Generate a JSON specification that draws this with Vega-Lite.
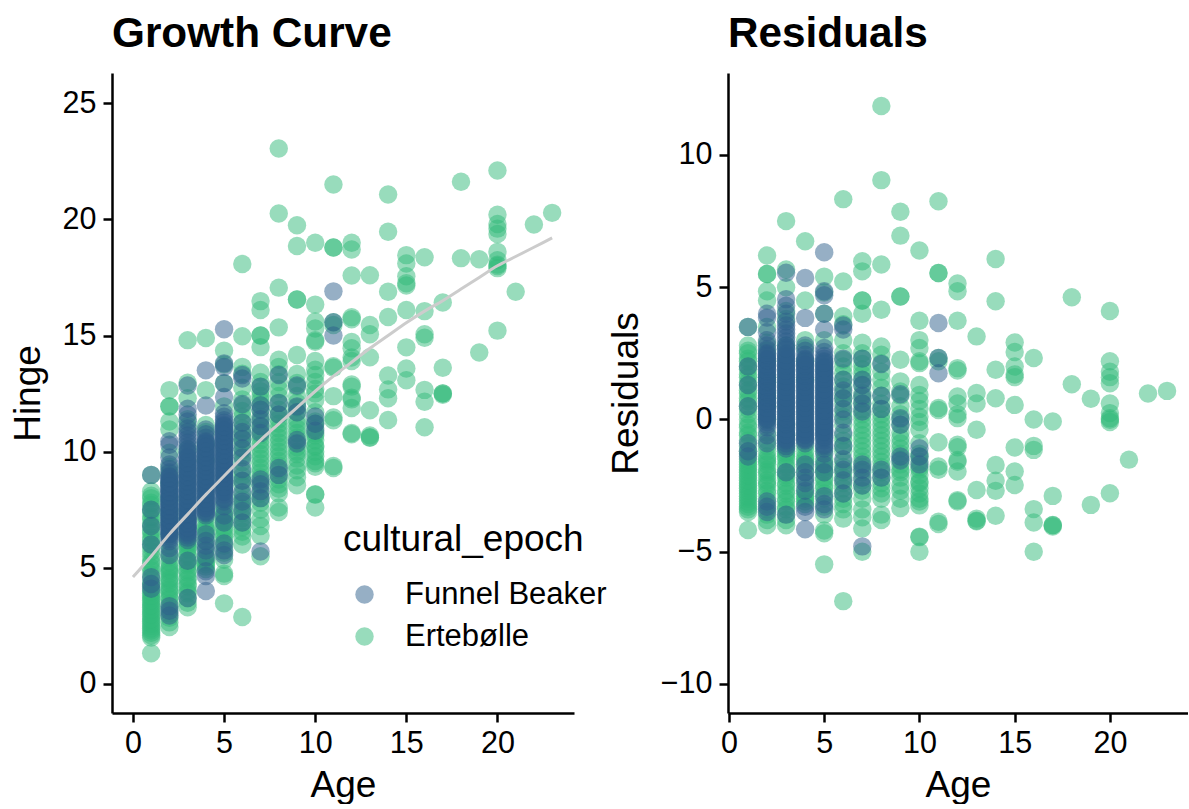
{"$schema":"https://vega.github.io/schema/vega-lite/v6.json","background":"white","padding":{"left":9,"top":12,"right":0,"bottom":0},"autosize":{"type":"pad"},"bounds":"flush","spacing":154,"config":{"view":{"stroke":null},"font":"Liberation Sans","title":{"font":"Liberation Sans","fontSize":42.3,"fontWeight":"bold","anchor":"start","frame":"group","color":"black","offset":17},"axis":{"grid":false,"domainColor":"black","tickColor":"black","domainWidth":2.5,"tickWidth":2.5,"tickSize":9,"labelColor":"black","titleColor":"black","labelFont":"Liberation Sans","titleFont":"Liberation Sans","labelFontSize":30.5,"titleFontSize":37,"titleFontWeight":"normal","labelPadding":7,"titlePadding":15,"labelFlush":false},"axisX":{"labelPadding":6,"titlePadding":9}},"datasets":{"rows":[
{"age":6,"hinge":9.85,"resid":0.1,"epoch":"Ertebølle"},{"age":6,"hinge":10.55,"resid":0.8,"epoch":"Ertebølle"},{"age":6,"hinge":11.0,"resid":1.25,"epoch":"Ertebølle"},{"age":6,"hinge":11.5,"resid":1.75,"epoch":"Ertebølle"},{"age":6,"hinge":12.0,"resid":2.25,"epoch":"Ertebølle"},{"age":6,"hinge":9.55,"resid":-0.2,"epoch":"Ertebølle"},{"age":6,"hinge":8.95,"resid":-0.8,"epoch":"Ertebølle"},{"age":7,"hinge":9.1,"resid":-1.4,"epoch":"Ertebølle"},{"age":7,"hinge":9.5,"resid":-1.0,"epoch":"Ertebølle"},{"age":7,"hinge":9.9,"resid":-0.6,"epoch":"Ertebølle"},{"age":7,"hinge":10.3,"resid":-0.2,"epoch":"Ertebølle"},{"age":7,"hinge":12.0,"resid":1.5,"epoch":"Ertebølle"},{"age":7,"hinge":12.4,"resid":1.9,"epoch":"Ertebølle"},{"age":7,"hinge":12.8,"resid":2.3,"epoch":"Ertebølle"},{"age":8,"hinge":8.4,"resid":-2.8,"epoch":"Ertebølle"},{"age":8,"hinge":8.8,"resid":-2.4,"epoch":"Ertebølle"},{"age":8,"hinge":9.2,"resid":-2.0,"epoch":"Ertebølle"},{"age":8,"hinge":9.6,"resid":-1.6,"epoch":"Ertebølle"},{"age":8,"hinge":10.0,"resid":-1.2,"epoch":"Ertebølle"},{"age":8,"hinge":10.4,"resid":-0.8,"epoch":"Ertebølle"},{"age":8,"hinge":10.8,"resid":-0.4,"epoch":"Ertebølle"},{"age":8,"hinge":11.2,"resid":0.0,"epoch":"Ertebølle"},{"age":8,"hinge":11.6,"resid":0.4,"epoch":"Ertebølle"},{"age":9,"hinge":9.4,"resid":-2.5,"epoch":"Ertebølle"},{"age":9,"hinge":10.0,"resid":-1.9,"epoch":"Ertebølle"},{"age":9,"hinge":10.4,"resid":-1.5,"epoch":"Ertebølle"},{"age":9,"hinge":10.8,"resid":-1.1,"epoch":"Ertebølle"},{"age":9,"hinge":11.2,"resid":-0.7,"epoch":"Ertebølle"},{"age":9,"hinge":11.9,"resid":0.0,"epoch":"Ertebølle"},{"age":9,"hinge":12.4,"resid":0.5,"epoch":"Ertebølle"},{"age":10,"hinge":9.8,"resid":-2.8,"epoch":"Ertebølle"},{"age":10,"hinge":10.2,"resid":-2.4,"epoch":"Ertebølle"},{"age":10,"hinge":10.8,"resid":-1.8,"epoch":"Ertebølle"},{"age":10,"hinge":11.2,"resid":-1.4,"epoch":"Ertebølle"},{"age":10,"hinge":11.7,"resid":-0.9,"epoch":"Ertebølle"},{"age":10,"hinge":12.5,"resid":-0.1,"epoch":"Ertebølle"},{"age":10,"hinge":13.3,"resid":0.7,"epoch":"Ertebølle"},
{"age":1,"hinge":2.1,"resid":-3.4,"epoch":"Ertebølle"},{"age":1,"hinge":2.3,"resid":-3.2,"epoch":"Ertebølle"},{"age":1,"hinge":2.5,"resid":-3.0,"epoch":"Ertebølle"},{"age":1,"hinge":2.7,"resid":-2.8,"epoch":"Ertebølle"},{"age":1,"hinge":2.9,"resid":-2.6,"epoch":"Ertebølle"},{"age":1,"hinge":3.1,"resid":-2.4,"epoch":"Ertebølle"},{"age":1,"hinge":3.3,"resid":-2.2,"epoch":"Ertebølle"},{"age":1,"hinge":3.5,"resid":-2.0,"epoch":"Ertebølle"},{"age":1,"hinge":3.7,"resid":-1.8,"epoch":"Ertebølle"},{"age":1,"hinge":3.9,"resid":-1.6,"epoch":"Ertebølle"},{"age":1,"hinge":4.2,"resid":-1.3,"epoch":"Ertebølle"},{"age":1,"hinge":4.5,"resid":-1.0,"epoch":"Ertebølle"},{"age":1,"hinge":4.9,"resid":-0.6,"epoch":"Ertebølle"},{"age":1,"hinge":5.2,"resid":-0.3,"epoch":"Ertebølle"},{"age":1,"hinge":5.5,"resid":0.0,"epoch":"Ertebølle"},{"age":1,"hinge":5.9,"resid":0.4,"epoch":"Ertebølle"},{"age":1,"hinge":6.2,"resid":0.7,"epoch":"Ertebølle"},{"age":1,"hinge":6.5,"resid":1.0,"epoch":"Ertebølle"},{"age":1,"hinge":6.8,"resid":1.3,"epoch":"Ertebølle"},{"age":1,"hinge":7.1,"resid":1.6,"epoch":"Ertebølle"},{"age":1,"hinge":7.4,"resid":1.9,"epoch":"Ertebølle"},{"age":1,"hinge":7.7,"resid":2.2,"epoch":"Ertebølle"},{"age":1,"hinge":8.0,"resid":2.5,"epoch":"Ertebølle"},{"age":1,"hinge":8.3,"resid":2.8,"epoch":"Ertebølle"},
{"age":2,"hinge":3.05,"resid":-3.4,"epoch":"Ertebølle"},{"age":2,"hinge":3.25,"resid":-3.2,"epoch":"Ertebølle"},{"age":2,"hinge":3.65,"resid":-2.8,"epoch":"Ertebølle"},{"age":2,"hinge":4.05,"resid":-2.4,"epoch":"Ertebølle"},{"age":2,"hinge":4.45,"resid":-2.0,"epoch":"Ertebølle"},{"age":2,"hinge":4.85,"resid":-1.6,"epoch":"Ertebølle"},{"age":2,"hinge":5.05,"resid":-1.4,"epoch":"Ertebølle"},{"age":2,"hinge":5.45,"resid":-1.0,"epoch":"Ertebølle"},{"age":2,"hinge":5.95,"resid":-0.5,"epoch":"Ertebølle"},{"age":2,"hinge":6.45,"resid":0.0,"epoch":"Ertebølle"},{"age":2,"hinge":6.95,"resid":0.5,"epoch":"Ertebølle"},{"age":2,"hinge":7.45,"resid":1.0,"epoch":"Ertebølle"},{"age":2,"hinge":8.05,"resid":1.6,"epoch":"Ertebølle"},{"age":2,"hinge":8.65,"resid":2.2,"epoch":"Ertebølle"},{"age":2,"hinge":9.05,"resid":2.6,"epoch":"Ertebølle"},
{"age":3,"hinge":3.9,"resid":-3.4,"epoch":"Ertebølle"},{"age":3,"hinge":4.2,"resid":-3.1,"epoch":"Ertebølle"},{"age":3,"hinge":4.5,"resid":-2.8,"epoch":"Ertebølle"},{"age":3,"hinge":4.9,"resid":-2.4,"epoch":"Ertebølle"},{"age":3,"hinge":5.2,"resid":-2.1,"epoch":"Ertebølle"},{"age":3,"hinge":5.5,"resid":-1.8,"epoch":"Ertebølle"},{"age":3,"hinge":5.8,"resid":-1.5,"epoch":"Ertebølle"},{"age":3,"hinge":6.0,"resid":-1.3,"epoch":"Ertebølle"},{"age":3,"hinge":6.3,"resid":-1.0,"epoch":"Ertebølle"},{"age":3,"hinge":6.7,"resid":-0.6,"epoch":"Ertebølle"},{"age":3,"hinge":7.1,"resid":-0.2,"epoch":"Ertebølle"},
{"age":4,"hinge":5.05,"resid":-3.1,"epoch":"Ertebølle"},{"age":4,"hinge":5.25,"resid":-2.9,"epoch":"Ertebølle"},{"age":4,"hinge":5.55,"resid":-2.6,"epoch":"Ertebølle"},{"age":4,"hinge":5.85,"resid":-2.3,"epoch":"Ertebølle"},{"age":4,"hinge":6.15,"resid":-2.0,"epoch":"Ertebølle"},{"age":4,"hinge":6.35,"resid":-1.8,"epoch":"Ertebølle"},{"age":4,"hinge":6.55,"resid":-1.6,"epoch":"Ertebølle"},{"age":4,"hinge":6.75,"resid":-1.4,"epoch":"Ertebølle"},{"age":4,"hinge":7.15,"resid":-1.0,"epoch":"Ertebølle"},
{"age":5,"hinge":5.65,"resid":-3.3,"epoch":"Ertebølle"},{"age":5,"hinge":6.15,"resid":-2.8,"epoch":"Ertebølle"},{"age":5,"hinge":6.45,"resid":-2.5,"epoch":"Ertebølle"},{"age":5,"hinge":6.75,"resid":-2.2,"epoch":"Ertebølle"},{"age":5,"hinge":7.05,"resid":-1.9,"epoch":"Ertebølle"},{"age":5,"hinge":7.35,"resid":-1.6,"epoch":"Ertebølle"},{"age":5,"hinge":7.75,"resid":-1.2,"epoch":"Ertebølle"},
{"age":6,"hinge":6.55,"resid":-3.2,"epoch":"Ertebølle"},{"age":6,"hinge":6.95,"resid":-2.8,"epoch":"Ertebølle"},{"age":6,"hinge":7.35,"resid":-2.4,"epoch":"Ertebølle"},{"age":6,"hinge":7.75,"resid":-2.0,"epoch":"Ertebølle"},{"age":6,"hinge":8.15,"resid":-1.6,"epoch":"Ertebølle"},{"age":6,"hinge":8.55,"resid":-1.2,"epoch":"Ertebølle"},
{"age":7,"hinge":7.1,"resid":-3.4,"epoch":"Ertebølle"},{"age":7,"hinge":8.0,"resid":-2.5,"epoch":"Ertebølle"},{"age":7,"hinge":8.7,"resid":-1.8,"epoch":"Ertebølle"},{"age":7,"hinge":10.7,"resid":0.2,"epoch":"Ertebølle"},{"age":7,"hinge":11.1,"resid":0.6,"epoch":"Ertebølle"},{"age":7,"hinge":11.5,"resid":1.0,"epoch":"Ertebølle"},
{"age":1,"hinge":1.32,"resid":-4.18,"epoch":"Ertebølle"},{"age":1,"hinge":2.0,"resid":-3.5,"epoch":"Ertebølle"},{"age":1,"hinge":2.2,"resid":-3.3,"epoch":"Ertebølle"},{"age":1,"hinge":2.4,"resid":-3.1,"epoch":"Ertebølle"},{"age":1,"hinge":2.6,"resid":-2.9,"epoch":"Ertebølle"},{"age":1,"hinge":2.8,"resid":-2.7,"epoch":"Ertebølle"},{"age":1,"hinge":3.0,"resid":-2.5,"epoch":"Ertebølle"},{"age":1,"hinge":3.2,"resid":-2.3,"epoch":"Ertebølle"},{"age":1,"hinge":3.4,"resid":-2.1,"epoch":"Ertebølle"},{"age":1,"hinge":3.6,"resid":-1.9,"epoch":"Ertebølle"},{"age":1,"hinge":3.8,"resid":-1.7,"epoch":"Ertebølle"},{"age":1,"hinge":4.0,"resid":-1.5,"epoch":"Ertebølle"},{"age":1,"hinge":4.3,"resid":-1.2,"epoch":"Ertebølle"},{"age":1,"hinge":4.7,"resid":-0.8,"epoch":"Ertebølle"},{"age":1,"hinge":5.0,"resid":-0.5,"epoch":"Ertebølle"},{"age":1,"hinge":5.3,"resid":-0.2,"epoch":"Ertebølle"},{"age":1,"hinge":5.7,"resid":0.2,"epoch":"Ertebølle"},{"age":1,"hinge":6.0,"resid":0.5,"epoch":"Ertebølle"},{"age":1,"hinge":6.3,"resid":0.8,"epoch":"Ertebølle"},{"age":1,"hinge":6.6,"resid":1.1,"epoch":"Ertebølle"},{"age":1,"hinge":6.9,"resid":1.4,"epoch":"Ertebølle"},{"age":1,"hinge":7.2,"resid":1.7,"epoch":"Ertebølle"},{"age":1,"hinge":7.5,"resid":2.0,"epoch":"Ertebølle"},{"age":1,"hinge":7.8,"resid":2.3,"epoch":"Ertebølle"},{"age":1,"hinge":8.1,"resid":2.6,"epoch":"Ertebølle"},{"age":1,"hinge":9.0,"resid":3.5,"epoch":"Ertebølle"},
{"age":1,"hinge":9.0,"resid":3.5,"epoch":"Funnel Beaker"},{"age":1,"hinge":7.5,"resid":2.0,"epoch":"Funnel Beaker"},{"age":1,"hinge":6.8,"resid":1.3,"epoch":"Funnel Beaker"},{"age":1,"hinge":6.0,"resid":0.5,"epoch":"Funnel Beaker"},{"age":1,"hinge":4.6,"resid":-0.9,"epoch":"Funnel Beaker"},{"age":1,"hinge":4.3,"resid":-1.2,"epoch":"Funnel Beaker"},{"age":1,"hinge":4.1,"resid":-1.4,"epoch":"Funnel Beaker"},
{"age":2,"hinge":2.45,"resid":-4.0,"epoch":"Ertebølle"},{"age":2,"hinge":2.65,"resid":-3.8,"epoch":"Ertebølle"},{"age":2,"hinge":2.85,"resid":-3.6,"epoch":"Ertebølle"},{"age":2,"hinge":3.45,"resid":-3.0,"epoch":"Ertebølle"},{"age":2,"hinge":3.75,"resid":-2.7,"epoch":"Ertebølle"},{"age":2,"hinge":3.95,"resid":-2.5,"epoch":"Ertebølle"},{"age":2,"hinge":4.15,"resid":-2.3,"epoch":"Ertebølle"},{"age":2,"hinge":4.35,"resid":-2.1,"epoch":"Ertebølle"},{"age":2,"hinge":4.55,"resid":-1.9,"epoch":"Ertebølle"},{"age":2,"hinge":4.75,"resid":-1.7,"epoch":"Ertebølle"},{"age":2,"hinge":4.95,"resid":-1.5,"epoch":"Ertebølle"},{"age":2,"hinge":5.25,"resid":-1.2,"epoch":"Ertebølle"},{"age":2,"hinge":5.65,"resid":-0.8,"epoch":"Ertebølle"},{"age":2,"hinge":7.25,"resid":0.8,"epoch":"Ertebølle"},{"age":2,"hinge":7.85,"resid":1.4,"epoch":"Ertebølle"},{"age":2,"hinge":9.35,"resid":2.9,"epoch":"Ertebølle"},{"age":2,"hinge":9.95,"resid":3.5,"epoch":"Ertebølle"},{"age":2,"hinge":10.95,"resid":4.5,"epoch":"Ertebølle"},{"age":2,"hinge":11.3,"resid":4.85,"epoch":"Ertebølle"},{"age":2,"hinge":11.95,"resid":5.5,"epoch":"Ertebølle"},{"age":2,"hinge":11.95,"resid":5.5,"epoch":"Ertebølle"},{"age":2,"hinge":12.65,"resid":6.2,"epoch":"Ertebølle"},
{"age":2,"hinge":2.95,"resid":-3.5,"epoch":"Funnel Beaker"},{"age":2,"hinge":3.15,"resid":-3.3,"epoch":"Funnel Beaker"},{"age":2,"hinge":3.35,"resid":-3.1,"epoch":"Funnel Beaker"},{"age":2,"hinge":5.55,"resid":-0.9,"epoch":"Funnel Beaker"},{"age":2,"hinge":5.85,"resid":-0.6,"epoch":"Funnel Beaker"},{"age":2,"hinge":6.15,"resid":-0.3,"epoch":"Funnel Beaker"},{"age":2,"hinge":6.35,"resid":-0.1,"epoch":"Funnel Beaker"},{"age":2,"hinge":6.55,"resid":0.1,"epoch":"Funnel Beaker"},{"age":2,"hinge":6.75,"resid":0.3,"epoch":"Funnel Beaker"},{"age":2,"hinge":6.95,"resid":0.5,"epoch":"Funnel Beaker"},{"age":2,"hinge":7.15,"resid":0.7,"epoch":"Funnel Beaker"},{"age":2,"hinge":7.35,"resid":0.9,"epoch":"Funnel Beaker"},{"age":2,"hinge":7.55,"resid":1.1,"epoch":"Funnel Beaker"},{"age":2,"hinge":7.75,"resid":1.3,"epoch":"Funnel Beaker"},{"age":2,"hinge":7.95,"resid":1.5,"epoch":"Funnel Beaker"},{"age":2,"hinge":8.15,"resid":1.7,"epoch":"Funnel Beaker"},{"age":2,"hinge":8.35,"resid":1.9,"epoch":"Funnel Beaker"},{"age":2,"hinge":8.55,"resid":2.1,"epoch":"Funnel Beaker"},{"age":2,"hinge":8.75,"resid":2.3,"epoch":"Funnel Beaker"},{"age":2,"hinge":8.95,"resid":2.5,"epoch":"Funnel Beaker"},{"age":2,"hinge":9.25,"resid":2.8,"epoch":"Funnel Beaker"},{"age":2,"hinge":9.45,"resid":3.0,"epoch":"Funnel Beaker"},{"age":2,"hinge":9.75,"resid":3.3,"epoch":"Funnel Beaker"},{"age":2,"hinge":10.3,"resid":3.85,"epoch":"Funnel Beaker"},{"age":2,"hinge":10.45,"resid":4.0,"epoch":"Funnel Beaker"},
{"age":3,"hinge":3.3,"resid":-4.0,"epoch":"Ertebølle"},{"age":3,"hinge":3.5,"resid":-3.8,"epoch":"Ertebølle"},{"age":3,"hinge":3.7,"resid":-3.6,"epoch":"Ertebølle"},{"age":3,"hinge":4.0,"resid":-3.3,"epoch":"Ertebølle"},{"age":3,"hinge":4.3,"resid":-3.0,"epoch":"Ertebølle"},{"age":3,"hinge":4.6,"resid":-2.7,"epoch":"Ertebølle"},{"age":3,"hinge":4.8,"resid":-2.5,"epoch":"Ertebølle"},{"age":3,"hinge":5.1,"resid":-2.2,"epoch":"Ertebølle"},{"age":3,"hinge":5.3,"resid":-2.0,"epoch":"Ertebølle"},{"age":3,"hinge":5.6,"resid":-1.7,"epoch":"Ertebølle"},{"age":3,"hinge":5.9,"resid":-1.4,"epoch":"Ertebølle"},{"age":3,"hinge":6.1,"resid":-1.2,"epoch":"Ertebølle"},{"age":3,"hinge":10.1,"resid":2.8,"epoch":"Ertebølle"},{"age":3,"hinge":11.1,"resid":3.8,"epoch":"Ertebølle"},{"age":3,"hinge":11.4,"resid":4.1,"epoch":"Ertebølle"},{"age":3,"hinge":12.3,"resid":5.0,"epoch":"Ertebølle"},{"age":3,"hinge":12.97,"resid":5.67,"epoch":"Ertebølle"},{"age":3,"hinge":14.8,"resid":7.5,"epoch":"Ertebølle"},
{"age":3,"hinge":3.7,"resid":-3.6,"epoch":"Funnel Beaker"},{"age":3,"hinge":5.3,"resid":-2.0,"epoch":"Funnel Beaker"},{"age":3,"hinge":6.2,"resid":-1.1,"epoch":"Funnel Beaker"},{"age":3,"hinge":6.4,"resid":-0.9,"epoch":"Funnel Beaker"},{"age":3,"hinge":6.6,"resid":-0.7,"epoch":"Funnel Beaker"},{"age":3,"hinge":6.8,"resid":-0.5,"epoch":"Funnel Beaker"},{"age":3,"hinge":7.0,"resid":-0.3,"epoch":"Funnel Beaker"},{"age":3,"hinge":7.2,"resid":-0.1,"epoch":"Funnel Beaker"},{"age":3,"hinge":7.4,"resid":0.1,"epoch":"Funnel Beaker"},{"age":3,"hinge":7.6,"resid":0.3,"epoch":"Funnel Beaker"},{"age":3,"hinge":7.8,"resid":0.5,"epoch":"Funnel Beaker"},{"age":3,"hinge":8.0,"resid":0.7,"epoch":"Funnel Beaker"},{"age":3,"hinge":8.2,"resid":0.9,"epoch":"Funnel Beaker"},{"age":3,"hinge":8.4,"resid":1.1,"epoch":"Funnel Beaker"},{"age":3,"hinge":8.6,"resid":1.3,"epoch":"Funnel Beaker"},{"age":3,"hinge":8.8,"resid":1.5,"epoch":"Funnel Beaker"},{"age":3,"hinge":9.0,"resid":1.7,"epoch":"Funnel Beaker"},{"age":3,"hinge":9.2,"resid":1.9,"epoch":"Funnel Beaker"},{"age":3,"hinge":9.4,"resid":2.1,"epoch":"Funnel Beaker"},{"age":3,"hinge":9.6,"resid":2.3,"epoch":"Funnel Beaker"},{"age":3,"hinge":9.8,"resid":2.5,"epoch":"Funnel Beaker"},{"age":3,"hinge":10.1,"resid":2.8,"epoch":"Funnel Beaker"},{"age":3,"hinge":10.4,"resid":3.1,"epoch":"Funnel Beaker"},{"age":3,"hinge":10.7,"resid":3.4,"epoch":"Funnel Beaker"},{"age":3,"hinge":11.0,"resid":3.7,"epoch":"Funnel Beaker"},{"age":3,"hinge":11.3,"resid":4.0,"epoch":"Funnel Beaker"},{"age":3,"hinge":11.6,"resid":4.3,"epoch":"Funnel Beaker"},{"age":3,"hinge":11.85,"resid":4.55,"epoch":"Funnel Beaker"},{"age":3,"hinge":12.85,"resid":5.55,"epoch":"Funnel Beaker"},
{"age":4,"hinge":4.95,"resid":-3.2,"epoch":"Ertebølle"},{"age":4,"hinge":5.15,"resid":-3.0,"epoch":"Ertebølle"},{"age":4,"hinge":5.35,"resid":-2.8,"epoch":"Ertebølle"},{"age":4,"hinge":6.65,"resid":-1.5,"epoch":"Ertebølle"},{"age":4,"hinge":6.95,"resid":-1.2,"epoch":"Ertebølle"},{"age":4,"hinge":9.65,"resid":1.5,"epoch":"Ertebølle"},{"age":4,"hinge":10.35,"resid":2.2,"epoch":"Ertebølle"},{"age":4,"hinge":10.85,"resid":2.7,"epoch":"Ertebølle"},{"age":4,"hinge":11.15,"resid":3.0,"epoch":"Ertebølle"},{"age":4,"hinge":12.65,"resid":4.5,"epoch":"Ertebølle"},{"age":4,"hinge":14.89,"resid":6.74,"epoch":"Ertebølle"},
{"age":4,"hinge":4.0,"resid":-4.15,"epoch":"Funnel Beaker"},{"age":4,"hinge":4.65,"resid":-3.5,"epoch":"Funnel Beaker"},{"age":4,"hinge":4.85,"resid":-3.3,"epoch":"Funnel Beaker"},{"age":4,"hinge":5.45,"resid":-2.7,"epoch":"Funnel Beaker"},{"age":4,"hinge":5.75,"resid":-2.4,"epoch":"Funnel Beaker"},{"age":4,"hinge":5.95,"resid":-2.2,"epoch":"Funnel Beaker"},{"age":4,"hinge":6.15,"resid":-2.0,"epoch":"Funnel Beaker"},{"age":4,"hinge":6.45,"resid":-1.7,"epoch":"Funnel Beaker"},{"age":4,"hinge":7.25,"resid":-0.9,"epoch":"Funnel Beaker"},{"age":4,"hinge":7.45,"resid":-0.7,"epoch":"Funnel Beaker"},{"age":4,"hinge":7.65,"resid":-0.5,"epoch":"Funnel Beaker"},{"age":4,"hinge":7.85,"resid":-0.3,"epoch":"Funnel Beaker"},{"age":4,"hinge":8.05,"resid":-0.1,"epoch":"Funnel Beaker"},{"age":4,"hinge":8.25,"resid":0.1,"epoch":"Funnel Beaker"},{"age":4,"hinge":8.45,"resid":0.3,"epoch":"Funnel Beaker"},{"age":4,"hinge":8.65,"resid":0.5,"epoch":"Funnel Beaker"},{"age":4,"hinge":8.85,"resid":0.7,"epoch":"Funnel Beaker"},{"age":4,"hinge":9.05,"resid":0.9,"epoch":"Funnel Beaker"},{"age":4,"hinge":9.25,"resid":1.1,"epoch":"Funnel Beaker"},{"age":4,"hinge":9.45,"resid":1.3,"epoch":"Funnel Beaker"},{"age":4,"hinge":9.65,"resid":1.5,"epoch":"Funnel Beaker"},{"age":4,"hinge":9.85,"resid":1.7,"epoch":"Funnel Beaker"},{"age":4,"hinge":10.05,"resid":1.9,"epoch":"Funnel Beaker"},{"age":4,"hinge":10.25,"resid":2.1,"epoch":"Funnel Beaker"},{"age":4,"hinge":10.45,"resid":2.3,"epoch":"Funnel Beaker"},{"age":4,"hinge":10.75,"resid":2.6,"epoch":"Funnel Beaker"},{"age":4,"hinge":11.99,"resid":3.84,"epoch":"Funnel Beaker"},{"age":4,"hinge":13.5,"resid":5.35,"epoch":"Funnel Beaker"},
{"age":5,"hinge":3.47,"resid":-5.48,"epoch":"Ertebølle"},{"age":5,"hinge":4.65,"resid":-4.3,"epoch":"Ertebølle"},{"age":5,"hinge":4.75,"resid":-4.2,"epoch":"Ertebølle"},{"age":5,"hinge":5.35,"resid":-3.6,"epoch":"Ertebølle"},{"age":5,"hinge":5.95,"resid":-3.0,"epoch":"Ertebølle"},{"age":5,"hinge":6.35,"resid":-2.6,"epoch":"Ertebølle"},{"age":5,"hinge":6.65,"resid":-2.3,"epoch":"Ertebølle"},{"age":5,"hinge":6.95,"resid":-2.0,"epoch":"Ertebølle"},{"age":5,"hinge":7.15,"resid":-1.8,"epoch":"Ertebølle"},{"age":5,"hinge":7.45,"resid":-1.5,"epoch":"Ertebølle"},{"age":5,"hinge":11.95,"resid":3.0,"epoch":"Ertebølle"},{"age":5,"hinge":12.95,"resid":4.0,"epoch":"Ertebølle"},{"age":5,"hinge":13.75,"resid":4.8,"epoch":"Ertebølle"},{"age":5,"hinge":14.35,"resid":5.4,"epoch":"Ertebølle"},
{"age":5,"hinge":5.55,"resid":-3.4,"epoch":"Funnel Beaker"},{"age":5,"hinge":5.75,"resid":-3.2,"epoch":"Funnel Beaker"},{"age":5,"hinge":6.05,"resid":-2.9,"epoch":"Funnel Beaker"},{"age":5,"hinge":6.95,"resid":-2.0,"epoch":"Funnel Beaker"},{"age":5,"hinge":7.25,"resid":-1.7,"epoch":"Funnel Beaker"},{"age":5,"hinge":7.65,"resid":-1.3,"epoch":"Funnel Beaker"},{"age":5,"hinge":7.85,"resid":-1.1,"epoch":"Funnel Beaker"},{"age":5,"hinge":8.15,"resid":-0.8,"epoch":"Funnel Beaker"},{"age":5,"hinge":8.35,"resid":-0.6,"epoch":"Funnel Beaker"},{"age":5,"hinge":8.55,"resid":-0.4,"epoch":"Funnel Beaker"},{"age":5,"hinge":8.75,"resid":-0.2,"epoch":"Funnel Beaker"},{"age":5,"hinge":8.95,"resid":0.0,"epoch":"Funnel Beaker"},{"age":5,"hinge":9.15,"resid":0.2,"epoch":"Funnel Beaker"},{"age":5,"hinge":9.35,"resid":0.4,"epoch":"Funnel Beaker"},{"age":5,"hinge":9.55,"resid":0.6,"epoch":"Funnel Beaker"},{"age":5,"hinge":9.75,"resid":0.8,"epoch":"Funnel Beaker"},{"age":5,"hinge":9.95,"resid":1.0,"epoch":"Funnel Beaker"},{"age":5,"hinge":10.15,"resid":1.2,"epoch":"Funnel Beaker"},{"age":5,"hinge":10.35,"resid":1.4,"epoch":"Funnel Beaker"},{"age":5,"hinge":10.55,"resid":1.6,"epoch":"Funnel Beaker"},{"age":5,"hinge":10.75,"resid":1.8,"epoch":"Funnel Beaker"},{"age":5,"hinge":10.95,"resid":2.0,"epoch":"Funnel Beaker"},{"age":5,"hinge":11.15,"resid":2.2,"epoch":"Funnel Beaker"},{"age":5,"hinge":11.35,"resid":2.4,"epoch":"Funnel Beaker"},{"age":5,"hinge":11.65,"resid":2.7,"epoch":"Funnel Beaker"},{"age":5,"hinge":12.35,"resid":3.4,"epoch":"Funnel Beaker"},{"age":5,"hinge":12.95,"resid":4.0,"epoch":"Funnel Beaker"},{"age":5,"hinge":13.65,"resid":4.7,"epoch":"Funnel Beaker"},{"age":5,"hinge":13.8,"resid":4.85,"epoch":"Funnel Beaker"},{"age":5,"hinge":15.27,"resid":6.32,"epoch":"Funnel Beaker"},
{"age":6,"hinge":2.88,"resid":-6.87,"epoch":"Ertebølle"},{"age":6,"hinge":6.0,"resid":-3.75,"epoch":"Ertebølle"},{"age":6,"hinge":6.35,"resid":-3.4,"epoch":"Ertebølle"},{"age":6,"hinge":6.75,"resid":-3.0,"epoch":"Ertebølle"},{"age":6,"hinge":7.15,"resid":-2.6,"epoch":"Ertebølle"},{"age":6,"hinge":7.55,"resid":-2.2,"epoch":"Ertebølle"},{"age":6,"hinge":7.95,"resid":-1.8,"epoch":"Ertebølle"},{"age":6,"hinge":8.75,"resid":-1.0,"epoch":"Ertebølle"},{"age":6,"hinge":9.15,"resid":-0.6,"epoch":"Ertebølle"},{"age":6,"hinge":10.05,"resid":0.3,"epoch":"Ertebølle"},{"age":6,"hinge":10.35,"resid":0.6,"epoch":"Ertebølle"},{"age":6,"hinge":10.75,"resid":1.0,"epoch":"Ertebølle"},{"age":6,"hinge":11.25,"resid":1.5,"epoch":"Ertebølle"},{"age":6,"hinge":11.75,"resid":2.0,"epoch":"Ertebølle"},{"age":6,"hinge":12.25,"resid":2.5,"epoch":"Ertebølle"},{"age":6,"hinge":12.75,"resid":3.0,"epoch":"Ertebølle"},{"age":6,"hinge":13.35,"resid":3.6,"epoch":"Ertebølle"},{"age":6,"hinge":13.65,"resid":3.9,"epoch":"Ertebølle"},{"age":6,"hinge":14.97,"resid":5.22,"epoch":"Ertebølle"},{"age":6,"hinge":18.08,"resid":8.33,"epoch":"Ertebølle"},
{"age":6,"hinge":6.95,"resid":-2.8,"epoch":"Funnel Beaker"},{"age":6,"hinge":7.45,"resid":-2.3,"epoch":"Funnel Beaker"},{"age":6,"hinge":7.85,"resid":-1.9,"epoch":"Funnel Beaker"},{"age":6,"hinge":8.25,"resid":-1.5,"epoch":"Funnel Beaker"},{"age":6,"hinge":8.75,"resid":-1.0,"epoch":"Funnel Beaker"},{"age":6,"hinge":9.25,"resid":-0.5,"epoch":"Funnel Beaker"},{"age":6,"hinge":9.75,"resid":0.0,"epoch":"Funnel Beaker"},{"age":6,"hinge":10.15,"resid":0.4,"epoch":"Funnel Beaker"},{"age":6,"hinge":10.55,"resid":0.8,"epoch":"Funnel Beaker"},{"age":6,"hinge":10.85,"resid":1.1,"epoch":"Funnel Beaker"},{"age":6,"hinge":11.25,"resid":1.5,"epoch":"Funnel Beaker"},{"age":6,"hinge":12.05,"resid":2.3,"epoch":"Funnel Beaker"},{"age":6,"hinge":13.15,"resid":3.4,"epoch":"Funnel Beaker"},{"age":6,"hinge":13.3,"resid":3.55,"epoch":"Funnel Beaker"},
{"age":7,"hinge":5.5,"resid":-5.0,"epoch":"Ertebølle"},{"age":7,"hinge":6.38,"resid":-4.12,"epoch":"Ertebølle"},{"age":7,"hinge":6.8,"resid":-3.7,"epoch":"Ertebølle"},{"age":7,"hinge":7.5,"resid":-3.0,"epoch":"Ertebølle"},{"age":7,"hinge":7.8,"resid":-2.7,"epoch":"Ertebølle"},{"age":7,"hinge":8.2,"resid":-2.3,"epoch":"Ertebølle"},{"age":7,"hinge":8.5,"resid":-2.0,"epoch":"Ertebølle"},{"age":7,"hinge":8.9,"resid":-1.6,"epoch":"Ertebølle"},{"age":7,"hinge":9.3,"resid":-1.2,"epoch":"Ertebølle"},{"age":7,"hinge":9.7,"resid":-0.8,"epoch":"Ertebølle"},{"age":7,"hinge":10.1,"resid":-0.4,"epoch":"Ertebølle"},{"age":7,"hinge":10.5,"resid":0.0,"epoch":"Ertebølle"},{"age":7,"hinge":10.9,"resid":0.4,"epoch":"Ertebølle"},{"age":7,"hinge":11.3,"resid":0.8,"epoch":"Ertebølle"},{"age":7,"hinge":11.8,"resid":1.3,"epoch":"Ertebølle"},{"age":7,"hinge":12.2,"resid":1.7,"epoch":"Ertebølle"},{"age":7,"hinge":12.6,"resid":2.1,"epoch":"Ertebølle"},{"age":7,"hinge":13.0,"resid":2.5,"epoch":"Ertebølle"},{"age":7,"hinge":13.4,"resid":2.9,"epoch":"Ertebølle"},{"age":7,"hinge":14.5,"resid":4.0,"epoch":"Ertebølle"},{"age":7,"hinge":15.0,"resid":4.5,"epoch":"Ertebølle"},{"age":7,"hinge":15.0,"resid":4.5,"epoch":"Ertebølle"},{"age":7,"hinge":16.1,"resid":5.6,"epoch":"Ertebølle"},{"age":7,"hinge":16.48,"resid":5.98,"epoch":"Ertebølle"},
{"age":7,"hinge":5.7,"resid":-4.8,"epoch":"Funnel Beaker"},{"age":7,"hinge":8.0,"resid":-2.5,"epoch":"Funnel Beaker"},{"age":7,"hinge":8.3,"resid":-2.2,"epoch":"Funnel Beaker"},{"age":7,"hinge":8.6,"resid":-1.9,"epoch":"Funnel Beaker"},{"age":7,"hinge":8.8,"resid":-1.7,"epoch":"Funnel Beaker"},{"age":7,"hinge":10.8,"resid":0.3,"epoch":"Funnel Beaker"},{"age":7,"hinge":11.1,"resid":0.6,"epoch":"Funnel Beaker"},{"age":7,"hinge":11.4,"resid":0.9,"epoch":"Funnel Beaker"},{"age":7,"hinge":11.8,"resid":1.3,"epoch":"Funnel Beaker"},{"age":7,"hinge":12.0,"resid":1.5,"epoch":"Funnel Beaker"},{"age":7,"hinge":12.8,"resid":2.3,"epoch":"Funnel Beaker"},
{"age":8,"hinge":7.4,"resid":-3.8,"epoch":"Ertebølle"},{"age":8,"hinge":7.6,"resid":-3.6,"epoch":"Ertebølle"},{"age":8,"hinge":8.2,"resid":-3.0,"epoch":"Ertebølle"},{"age":8,"hinge":8.6,"resid":-2.6,"epoch":"Ertebølle"},{"age":8,"hinge":9.0,"resid":-2.2,"epoch":"Ertebølle"},{"age":8,"hinge":9.4,"resid":-1.8,"epoch":"Ertebølle"},{"age":8,"hinge":9.8,"resid":-1.4,"epoch":"Ertebølle"},{"age":8,"hinge":10.2,"resid":-1.0,"epoch":"Ertebølle"},{"age":8,"hinge":10.6,"resid":-0.6,"epoch":"Ertebølle"},{"age":8,"hinge":11.0,"resid":-0.2,"epoch":"Ertebølle"},{"age":8,"hinge":11.4,"resid":0.2,"epoch":"Ertebølle"},{"age":8,"hinge":11.8,"resid":0.6,"epoch":"Ertebølle"},{"age":8,"hinge":12.1,"resid":0.9,"epoch":"Ertebølle"},{"age":8,"hinge":12.4,"resid":1.2,"epoch":"Ertebølle"},{"age":8,"hinge":12.7,"resid":1.5,"epoch":"Ertebølle"},{"age":8,"hinge":13.0,"resid":1.8,"epoch":"Ertebølle"},{"age":8,"hinge":13.33,"resid":2.13,"epoch":"Ertebølle"},{"age":8,"hinge":13.65,"resid":2.45,"epoch":"Ertebølle"},{"age":8,"hinge":13.96,"resid":2.76,"epoch":"Ertebølle"},{"age":8,"hinge":15.35,"resid":4.15,"epoch":"Ertebølle"},{"age":8,"hinge":17.06,"resid":5.86,"epoch":"Ertebølle"},{"age":8,"hinge":20.25,"resid":9.05,"epoch":"Ertebølle"},{"age":8,"hinge":23.05,"resid":11.85,"epoch":"Ertebølle"},
{"age":8,"hinge":9.0,"resid":-2.2,"epoch":"Funnel Beaker"},{"age":8,"hinge":9.3,"resid":-1.9,"epoch":"Funnel Beaker"},{"age":8,"hinge":11.6,"resid":0.4,"epoch":"Funnel Beaker"},{"age":8,"hinge":12.1,"resid":0.9,"epoch":"Funnel Beaker"},{"age":8,"hinge":13.3,"resid":2.1,"epoch":"Funnel Beaker"},
{"age":9,"hinge":8.55,"resid":-3.35,"epoch":"Ertebølle"},{"age":9,"hinge":8.9,"resid":-3.0,"epoch":"Ertebølle"},{"age":9,"hinge":9.2,"resid":-2.7,"epoch":"Ertebølle"},{"age":9,"hinge":9.7,"resid":-2.2,"epoch":"Ertebølle"},{"age":9,"hinge":9.9,"resid":-2.0,"epoch":"Ertebølle"},{"age":9,"hinge":10.2,"resid":-1.7,"epoch":"Ertebølle"},{"age":9,"hinge":10.6,"resid":-1.3,"epoch":"Ertebølle"},{"age":9,"hinge":11.0,"resid":-0.9,"epoch":"Ertebølle"},{"age":9,"hinge":11.4,"resid":-0.5,"epoch":"Ertebølle"},{"age":9,"hinge":11.7,"resid":-0.2,"epoch":"Ertebølle"},{"age":9,"hinge":12.1,"resid":0.2,"epoch":"Ertebølle"},{"age":9,"hinge":12.8,"resid":0.9,"epoch":"Ertebølle"},{"age":9,"hinge":12.96,"resid":1.06,"epoch":"Ertebølle"},{"age":9,"hinge":13.34,"resid":1.44,"epoch":"Ertebølle"},{"age":9,"hinge":14.16,"resid":2.26,"epoch":"Ertebølle"},{"age":9,"hinge":16.55,"resid":4.65,"epoch":"Ertebølle"},{"age":9,"hinge":16.55,"resid":4.65,"epoch":"Ertebølle"},{"age":9,"hinge":18.85,"resid":6.95,"epoch":"Ertebølle"},{"age":9,"hinge":19.75,"resid":7.85,"epoch":"Ertebølle"},
{"age":9,"hinge":10.35,"resid":-1.55,"epoch":"Funnel Beaker"},{"age":9,"hinge":10.5,"resid":-1.4,"epoch":"Funnel Beaker"},{"age":9,"hinge":11.7,"resid":-0.2,"epoch":"Funnel Beaker"},{"age":9,"hinge":11.95,"resid":0.05,"epoch":"Funnel Beaker"},{"age":9,"hinge":12.85,"resid":0.95,"epoch":"Funnel Beaker"},
{"age":10,"hinge":7.6,"resid":-5.0,"epoch":"Ertebølle"},{"age":10,"hinge":8.15,"resid":-4.45,"epoch":"Ertebølle"},{"age":10,"hinge":8.17,"resid":-4.43,"epoch":"Ertebølle"},{"age":10,"hinge":9.35,"resid":-3.25,"epoch":"Ertebølle"},{"age":10,"hinge":9.5,"resid":-3.1,"epoch":"Ertebølle"},{"age":10,"hinge":9.6,"resid":-3.0,"epoch":"Ertebølle"},{"age":10,"hinge":10.0,"resid":-2.6,"epoch":"Ertebølle"},{"age":10,"hinge":10.25,"resid":-2.35,"epoch":"Ertebølle"},{"age":10,"hinge":10.5,"resid":-2.1,"epoch":"Ertebølle"},{"age":10,"hinge":10.7,"resid":-1.9,"epoch":"Ertebølle"},{"age":10,"hinge":11.0,"resid":-1.6,"epoch":"Ertebølle"},{"age":10,"hinge":11.3,"resid":-1.3,"epoch":"Ertebølle"},{"age":10,"hinge":12.21,"resid":-0.39,"epoch":"Ertebølle"},{"age":10,"hinge":12.7,"resid":0.1,"epoch":"Ertebølle"},{"age":10,"hinge":13.0,"resid":0.4,"epoch":"Ertebølle"},{"age":10,"hinge":13.53,"resid":0.93,"epoch":"Ertebølle"},{"age":10,"hinge":13.9,"resid":1.3,"epoch":"Ertebølle"},{"age":10,"hinge":14.73,"resid":2.13,"epoch":"Ertebølle"},{"age":10,"hinge":14.8,"resid":2.2,"epoch":"Ertebølle"},{"age":10,"hinge":15.3,"resid":2.7,"epoch":"Ertebølle"},{"age":10,"hinge":15.6,"resid":3.0,"epoch":"Ertebølle"},{"age":10,"hinge":16.33,"resid":3.73,"epoch":"Ertebølle"},{"age":10,"hinge":18.99,"resid":6.39,"epoch":"Ertebølle"},
{"age":10,"hinge":11.51,"resid":-1.09,"epoch":"Funnel Beaker"},{"age":10,"hinge":11.2,"resid":-1.4,"epoch":"Funnel Beaker"},{"age":10,"hinge":10.9,"resid":-1.7,"epoch":"Funnel Beaker"},
{"age":11,"hinge":21.5,"resid":8.25,"epoch":"Ertebølle"},{"age":11,"hinge":18.79,"resid":5.54,"epoch":"Ertebølle"},{"age":11,"hinge":18.79,"resid":5.54,"epoch":"Ertebølle"},{"age":11,"hinge":15.57,"resid":2.32,"epoch":"Ertebølle"},{"age":11,"hinge":15.45,"resid":2.2,"epoch":"Ertebølle"},{"age":11,"hinge":13.68,"resid":0.43,"epoch":"Ertebølle"},{"age":11,"hinge":13.61,"resid":0.36,"epoch":"Ertebølle"},{"age":11,"hinge":12.39,"resid":-0.86,"epoch":"Ertebølle"},{"age":11,"hinge":11.47,"resid":-1.78,"epoch":"Ertebølle"},{"age":11,"hinge":11.35,"resid":-1.9,"epoch":"Ertebølle"},{"age":11,"hinge":9.38,"resid":-3.87,"epoch":"Ertebølle"},{"age":11,"hinge":9.3,"resid":-3.95,"epoch":"Ertebølle"},
{"age":11,"hinge":16.9,"resid":3.65,"epoch":"Funnel Beaker"},{"age":11,"hinge":15.57,"resid":2.32,"epoch":"Funnel Beaker"},{"age":11,"hinge":15.0,"resid":1.75,"epoch":"Funnel Beaker"},
{"age":12,"hinge":18.99,"resid":5.14,"epoch":"Ertebølle"},{"age":12,"hinge":18.7,"resid":4.85,"epoch":"Ertebølle"},{"age":12,"hinge":17.58,"resid":3.73,"epoch":"Ertebølle"},{"age":12,"hinge":15.79,"resid":1.94,"epoch":"Ertebølle"},{"age":12,"hinge":15.7,"resid":1.85,"epoch":"Ertebølle"},{"age":12,"hinge":14.72,"resid":0.87,"epoch":"Ertebølle"},{"age":12,"hinge":14.45,"resid":0.6,"epoch":"Ertebølle"},{"age":12,"hinge":14.05,"resid":0.2,"epoch":"Ertebølle"},{"age":12,"hinge":13.9,"resid":0.05,"epoch":"Ertebølle"},{"age":12,"hinge":12.89,"resid":-0.96,"epoch":"Ertebølle"},{"age":12,"hinge":12.8,"resid":-1.05,"epoch":"Ertebølle"},{"age":12,"hinge":12.32,"resid":-1.53,"epoch":"Ertebølle"},{"age":12,"hinge":12.25,"resid":-1.6,"epoch":"Ertebølle"},{"age":12,"hinge":11.88,"resid":-1.97,"epoch":"Ertebølle"},{"age":12,"hinge":10.75,"resid":-3.1,"epoch":"Ertebølle"},{"age":12,"hinge":10.8,"resid":-3.05,"epoch":"Ertebølle"},
{"age":13,"hinge":17.59,"resid":3.14,"epoch":"Ertebølle"},{"age":13,"hinge":15.45,"resid":1.0,"epoch":"Ertebølle"},{"age":13,"hinge":15.05,"resid":0.6,"epoch":"Ertebølle"},{"age":13,"hinge":14.06,"resid":-0.39,"epoch":"Ertebølle"},{"age":13,"hinge":11.78,"resid":-2.67,"epoch":"Ertebølle"},{"age":13,"hinge":10.7,"resid":-3.75,"epoch":"Ertebølle"},{"age":13,"hinge":10.62,"resid":-3.83,"epoch":"Ertebølle"},{"age":13,"hinge":10.6,"resid":-3.85,"epoch":"Ertebølle"},
{"age":14,"hinge":21.07,"resid":6.07,"epoch":"Ertebølle"},{"age":14,"hinge":19.47,"resid":4.47,"epoch":"Ertebølle"},{"age":14,"hinge":16.88,"resid":1.88,"epoch":"Ertebølle"},{"age":14,"hinge":15.8,"resid":0.8,"epoch":"Ertebølle"},{"age":14,"hinge":13.28,"resid":-1.72,"epoch":"Ertebølle"},{"age":14,"hinge":12.68,"resid":-2.32,"epoch":"Ertebølle"},{"age":14,"hinge":12.3,"resid":-2.7,"epoch":"Ertebølle"},{"age":14,"hinge":11.36,"resid":-3.64,"epoch":"Ertebølle"},
{"age":15,"hinge":18.46,"resid":2.91,"epoch":"Ertebølle"},{"age":15,"hinge":18.1,"resid":2.55,"epoch":"Ertebølle"},{"age":15,"hinge":17.55,"resid":2.0,"epoch":"Ertebølle"},{"age":15,"hinge":17.25,"resid":1.7,"epoch":"Ertebølle"},{"age":15,"hinge":17.15,"resid":1.6,"epoch":"Ertebølle"},{"age":15,"hinge":16.1,"resid":0.55,"epoch":"Ertebølle"},{"age":15,"hinge":14.49,"resid":-1.06,"epoch":"Ertebølle"},{"age":15,"hinge":13.58,"resid":-1.97,"epoch":"Ertebølle"},{"age":15,"hinge":13.07,"resid":-2.48,"epoch":"Ertebølle"},
{"age":16,"hinge":18.37,"resid":2.32,"epoch":"Ertebølle"},{"age":16,"hinge":16.05,"resid":0.0,"epoch":"Ertebølle"},{"age":16,"hinge":15.05,"resid":-1.0,"epoch":"Ertebølle"},{"age":16,"hinge":14.9,"resid":-1.15,"epoch":"Ertebølle"},{"age":16,"hinge":12.66,"resid":-3.39,"epoch":"Ertebølle"},{"age":16,"hinge":12.15,"resid":-3.9,"epoch":"Ertebølle"},{"age":16,"hinge":11.05,"resid":-5.0,"epoch":"Ertebølle"},
{"age":17,"hinge":16.42,"resid":-0.08,"epoch":"Ertebølle"},{"age":17,"hinge":13.61,"resid":-2.89,"epoch":"Ertebølle"},{"age":17,"hinge":12.51,"resid":-3.99,"epoch":"Ertebølle"},{"age":17,"hinge":12.5,"resid":-4.0,"epoch":"Ertebølle"},{"age":17,"hinge":12.45,"resid":-4.05,"epoch":"Ertebølle"},
{"age":18,"hinge":21.62,"resid":4.62,"epoch":"Ertebølle"},{"age":18,"hinge":18.33,"resid":1.33,"epoch":"Ertebølle"},{"age":19,"hinge":18.28,"resid":0.78,"epoch":"Ertebølle"},{"age":19,"hinge":14.27,"resid":-3.23,"epoch":"Ertebølle"},
{"age":20,"hinge":22.1,"resid":4.1,"epoch":"Ertebølle"},{"age":20,"hinge":20.2,"resid":2.2,"epoch":"Ertebølle"},{"age":20,"hinge":19.8,"resid":1.8,"epoch":"Ertebølle"},{"age":20,"hinge":19.6,"resid":1.6,"epoch":"Ertebølle"},{"age":20,"hinge":19.37,"resid":1.37,"epoch":"Ertebølle"},{"age":20,"hinge":18.6,"resid":0.6,"epoch":"Ertebølle"},{"age":20,"hinge":18.24,"resid":0.24,"epoch":"Ertebølle"},{"age":20,"hinge":18.05,"resid":0.05,"epoch":"Ertebølle"},{"age":20,"hinge":17.9,"resid":-0.1,"epoch":"Ertebølle"},{"age":20,"hinge":17.99,"resid":-0.01,"epoch":"Ertebølle"},{"age":20,"hinge":15.21,"resid":-2.79,"epoch":"Ertebølle"},
{"age":21,"hinge":16.88,"resid":-1.52,"epoch":"Ertebølle"},{"age":22,"hinge":19.78,"resid":0.98,"epoch":"Ertebølle"},{"age":23,"hinge":20.28,"resid":1.08,"epoch":"Ertebølle"},
{"age":2,"hinge":6.25,"resid":-0.2,"epoch":"Funnel Beaker"},{"age":2,"hinge":6.45,"resid":0.0,"epoch":"Funnel Beaker"},{"age":2,"hinge":6.65,"resid":0.2,"epoch":"Funnel Beaker"},{"age":2,"hinge":6.85,"resid":0.4,"epoch":"Funnel Beaker"},{"age":2,"hinge":7.05,"resid":0.6,"epoch":"Funnel Beaker"},{"age":2,"hinge":7.25,"resid":0.8,"epoch":"Funnel Beaker"},{"age":2,"hinge":7.45,"resid":1.0,"epoch":"Funnel Beaker"},{"age":2,"hinge":7.65,"resid":1.2,"epoch":"Funnel Beaker"},{"age":2,"hinge":7.85,"resid":1.4,"epoch":"Funnel Beaker"},{"age":2,"hinge":8.05,"resid":1.6,"epoch":"Funnel Beaker"},{"age":2,"hinge":8.25,"resid":1.8,"epoch":"Funnel Beaker"},{"age":2,"hinge":8.45,"resid":2.0,"epoch":"Funnel Beaker"},{"age":2,"hinge":8.65,"resid":2.2,"epoch":"Funnel Beaker"},{"age":2,"hinge":8.85,"resid":2.4,"epoch":"Funnel Beaker"},{"age":2,"hinge":9.1,"resid":2.65,"epoch":"Funnel Beaker"},
{"age":2,"hinge":6.5,"resid":0.05,"epoch":"Funnel Beaker"},{"age":2,"hinge":6.7,"resid":0.25,"epoch":"Funnel Beaker"},{"age":2,"hinge":6.9,"resid":0.45,"epoch":"Funnel Beaker"},{"age":2,"hinge":7.1,"resid":0.65,"epoch":"Funnel Beaker"},{"age":2,"hinge":7.3,"resid":0.85,"epoch":"Funnel Beaker"},{"age":2,"hinge":7.5,"resid":1.05,"epoch":"Funnel Beaker"},{"age":2,"hinge":7.7,"resid":1.25,"epoch":"Funnel Beaker"},{"age":2,"hinge":7.9,"resid":1.45,"epoch":"Funnel Beaker"},{"age":2,"hinge":8.1,"resid":1.65,"epoch":"Funnel Beaker"},{"age":2,"hinge":8.3,"resid":1.85,"epoch":"Funnel Beaker"},{"age":2,"hinge":8.5,"resid":2.05,"epoch":"Funnel Beaker"},{"age":2,"hinge":8.7,"resid":2.25,"epoch":"Funnel Beaker"},{"age":2,"hinge":8.9,"resid":2.45,"epoch":"Funnel Beaker"},
{"age":3,"hinge":6.3,"resid":-1.0,"epoch":"Funnel Beaker"},{"age":3,"hinge":6.5,"resid":-0.8,"epoch":"Funnel Beaker"},{"age":3,"hinge":6.7,"resid":-0.6,"epoch":"Funnel Beaker"},{"age":3,"hinge":6.9,"resid":-0.4,"epoch":"Funnel Beaker"},{"age":3,"hinge":7.1,"resid":-0.2,"epoch":"Funnel Beaker"},{"age":3,"hinge":7.3,"resid":0.0,"epoch":"Funnel Beaker"},{"age":3,"hinge":7.5,"resid":0.2,"epoch":"Funnel Beaker"},{"age":3,"hinge":7.7,"resid":0.4,"epoch":"Funnel Beaker"},{"age":3,"hinge":7.9,"resid":0.6,"epoch":"Funnel Beaker"},{"age":3,"hinge":8.1,"resid":0.8,"epoch":"Funnel Beaker"},{"age":3,"hinge":8.3,"resid":1.0,"epoch":"Funnel Beaker"},{"age":3,"hinge":8.5,"resid":1.2,"epoch":"Funnel Beaker"},{"age":3,"hinge":8.7,"resid":1.4,"epoch":"Funnel Beaker"},{"age":3,"hinge":8.9,"resid":1.6,"epoch":"Funnel Beaker"},{"age":3,"hinge":9.1,"resid":1.8,"epoch":"Funnel Beaker"},{"age":3,"hinge":9.3,"resid":2.0,"epoch":"Funnel Beaker"},{"age":3,"hinge":9.5,"resid":2.2,"epoch":"Funnel Beaker"},{"age":3,"hinge":9.7,"resid":2.4,"epoch":"Funnel Beaker"},{"age":3,"hinge":9.95,"resid":2.65,"epoch":"Funnel Beaker"},{"age":3,"hinge":10.25,"resid":2.95,"epoch":"Funnel Beaker"},{"age":3,"hinge":10.55,"resid":3.25,"epoch":"Funnel Beaker"},{"age":3,"hinge":10.85,"resid":3.55,"epoch":"Funnel Beaker"},
{"age":3,"hinge":6.55,"resid":-0.75,"epoch":"Funnel Beaker"},{"age":3,"hinge":6.75,"resid":-0.55,"epoch":"Funnel Beaker"},{"age":3,"hinge":6.95,"resid":-0.35,"epoch":"Funnel Beaker"},{"age":3,"hinge":7.15,"resid":-0.15,"epoch":"Funnel Beaker"},{"age":3,"hinge":7.35,"resid":0.05,"epoch":"Funnel Beaker"},{"age":3,"hinge":7.55,"resid":0.25,"epoch":"Funnel Beaker"},{"age":3,"hinge":7.75,"resid":0.45,"epoch":"Funnel Beaker"},{"age":3,"hinge":7.95,"resid":0.65,"epoch":"Funnel Beaker"},{"age":3,"hinge":8.15,"resid":0.85,"epoch":"Funnel Beaker"},{"age":3,"hinge":8.35,"resid":1.05,"epoch":"Funnel Beaker"},{"age":3,"hinge":8.55,"resid":1.25,"epoch":"Funnel Beaker"},{"age":3,"hinge":8.75,"resid":1.45,"epoch":"Funnel Beaker"},{"age":3,"hinge":8.95,"resid":1.65,"epoch":"Funnel Beaker"},{"age":3,"hinge":9.15,"resid":1.85,"epoch":"Funnel Beaker"},{"age":3,"hinge":9.35,"resid":2.05,"epoch":"Funnel Beaker"},{"age":3,"hinge":9.55,"resid":2.25,"epoch":"Funnel Beaker"},{"age":3,"hinge":9.75,"resid":2.45,"epoch":"Funnel Beaker"},{"age":3,"hinge":10.0,"resid":2.7,"epoch":"Funnel Beaker"},
{"age":4,"hinge":7.35,"resid":-0.8,"epoch":"Funnel Beaker"},{"age":4,"hinge":7.55,"resid":-0.6,"epoch":"Funnel Beaker"},{"age":4,"hinge":7.75,"resid":-0.4,"epoch":"Funnel Beaker"},{"age":4,"hinge":7.95,"resid":-0.2,"epoch":"Funnel Beaker"},{"age":4,"hinge":8.15,"resid":0.0,"epoch":"Funnel Beaker"},{"age":4,"hinge":8.35,"resid":0.2,"epoch":"Funnel Beaker"},{"age":4,"hinge":8.55,"resid":0.4,"epoch":"Funnel Beaker"},{"age":4,"hinge":8.75,"resid":0.6,"epoch":"Funnel Beaker"},{"age":4,"hinge":8.95,"resid":0.8,"epoch":"Funnel Beaker"},{"age":4,"hinge":9.15,"resid":1.0,"epoch":"Funnel Beaker"},{"age":4,"hinge":9.35,"resid":1.2,"epoch":"Funnel Beaker"},{"age":4,"hinge":9.55,"resid":1.4,"epoch":"Funnel Beaker"},{"age":4,"hinge":9.75,"resid":1.6,"epoch":"Funnel Beaker"},{"age":4,"hinge":9.95,"resid":1.8,"epoch":"Funnel Beaker"},{"age":4,"hinge":10.15,"resid":2.0,"epoch":"Funnel Beaker"},{"age":4,"hinge":10.35,"resid":2.2,"epoch":"Funnel Beaker"},{"age":4,"hinge":10.6,"resid":2.45,"epoch":"Funnel Beaker"},{"age":4,"hinge":10.95,"resid":2.8,"epoch":"Funnel Beaker"},
{"age":4,"hinge":7.4,"resid":-0.75,"epoch":"Funnel Beaker"},{"age":4,"hinge":7.6,"resid":-0.55,"epoch":"Funnel Beaker"},{"age":4,"hinge":7.8,"resid":-0.35,"epoch":"Funnel Beaker"},{"age":4,"hinge":8.0,"resid":-0.15,"epoch":"Funnel Beaker"},{"age":4,"hinge":8.2,"resid":0.05,"epoch":"Funnel Beaker"},{"age":4,"hinge":8.4,"resid":0.25,"epoch":"Funnel Beaker"},{"age":4,"hinge":8.6,"resid":0.45,"epoch":"Funnel Beaker"},{"age":4,"hinge":8.8,"resid":0.65,"epoch":"Funnel Beaker"},{"age":4,"hinge":9.0,"resid":0.85,"epoch":"Funnel Beaker"},{"age":4,"hinge":9.2,"resid":1.05,"epoch":"Funnel Beaker"},{"age":4,"hinge":9.4,"resid":1.25,"epoch":"Funnel Beaker"},{"age":4,"hinge":9.6,"resid":1.45,"epoch":"Funnel Beaker"},{"age":4,"hinge":9.8,"resid":1.65,"epoch":"Funnel Beaker"},{"age":4,"hinge":10.0,"resid":1.85,"epoch":"Funnel Beaker"},{"age":4,"hinge":10.2,"resid":2.05,"epoch":"Funnel Beaker"},{"age":4,"hinge":10.4,"resid":2.25,"epoch":"Funnel Beaker"},
{"age":5,"hinge":7.95,"resid":-1.0,"epoch":"Funnel Beaker"},{"age":5,"hinge":8.25,"resid":-0.7,"epoch":"Funnel Beaker"},{"age":5,"hinge":8.45,"resid":-0.5,"epoch":"Funnel Beaker"},{"age":5,"hinge":8.65,"resid":-0.3,"epoch":"Funnel Beaker"},{"age":5,"hinge":8.85,"resid":-0.1,"epoch":"Funnel Beaker"},{"age":5,"hinge":9.05,"resid":0.1,"epoch":"Funnel Beaker"},{"age":5,"hinge":9.25,"resid":0.3,"epoch":"Funnel Beaker"},{"age":5,"hinge":9.45,"resid":0.5,"epoch":"Funnel Beaker"},{"age":5,"hinge":9.65,"resid":0.7,"epoch":"Funnel Beaker"},{"age":5,"hinge":9.85,"resid":0.9,"epoch":"Funnel Beaker"},{"age":5,"hinge":10.05,"resid":1.1,"epoch":"Funnel Beaker"},{"age":5,"hinge":10.25,"resid":1.3,"epoch":"Funnel Beaker"},{"age":5,"hinge":10.45,"resid":1.5,"epoch":"Funnel Beaker"},{"age":5,"hinge":10.65,"resid":1.7,"epoch":"Funnel Beaker"},{"age":5,"hinge":10.85,"resid":1.9,"epoch":"Funnel Beaker"},{"age":5,"hinge":11.05,"resid":2.1,"epoch":"Funnel Beaker"},{"age":5,"hinge":11.25,"resid":2.3,"epoch":"Funnel Beaker"},{"age":5,"hinge":11.5,"resid":2.55,"epoch":"Funnel Beaker"},
{"age":5,"hinge":8.0,"resid":-0.95,"epoch":"Funnel Beaker"},{"age":5,"hinge":8.3,"resid":-0.65,"epoch":"Funnel Beaker"},{"age":5,"hinge":8.5,"resid":-0.45,"epoch":"Funnel Beaker"},{"age":5,"hinge":8.7,"resid":-0.25,"epoch":"Funnel Beaker"},{"age":5,"hinge":8.9,"resid":-0.05,"epoch":"Funnel Beaker"},{"age":5,"hinge":9.1,"resid":0.15,"epoch":"Funnel Beaker"},{"age":5,"hinge":9.3,"resid":0.35,"epoch":"Funnel Beaker"},{"age":5,"hinge":9.5,"resid":0.55,"epoch":"Funnel Beaker"},{"age":5,"hinge":9.7,"resid":0.75,"epoch":"Funnel Beaker"},{"age":5,"hinge":9.9,"resid":0.95,"epoch":"Funnel Beaker"},{"age":5,"hinge":10.1,"resid":1.15,"epoch":"Funnel Beaker"},{"age":5,"hinge":10.3,"resid":1.35,"epoch":"Funnel Beaker"},{"age":5,"hinge":10.5,"resid":1.55,"epoch":"Funnel Beaker"},{"age":5,"hinge":10.7,"resid":1.75,"epoch":"Funnel Beaker"},{"age":5,"hinge":10.9,"resid":1.95,"epoch":"Funnel Beaker"},{"age":5,"hinge":11.1,"resid":2.15,"epoch":"Funnel Beaker"}
],"fit":[{"age":0,"fit":4.6},{"age":1,"fit":5.5},{"age":2,"fit":6.45},{"age":3,"fit":7.3},{"age":4,"fit":8.15},{"age":5,"fit":8.95},{"age":6,"fit":9.75},{"age":7,"fit":10.5},{"age":8,"fit":11.2},{"age":9,"fit":11.9},{"age":10,"fit":12.6},{"age":11,"fit":13.25},{"age":12,"fit":13.85},{"age":13,"fit":14.45},{"age":14,"fit":15.0},{"age":15,"fit":15.55},{"age":16,"fit":16.05},{"age":17,"fit":16.5},{"age":18,"fit":17.0},{"age":19,"fit":17.5},{"age":20,"fit":18.0},{"age":21,"fit":18.4},{"age":22,"fit":18.8},{"age":23,"fit":19.2}]},
"hconcat":[
{"title":"Growth Curve","width":462,"height":640,"layer":[
{"data":{"name":"rows"},"mark":{"type":"circle","size":340,"opacity":0.5,"stroke":null},"encoding":{"x":{"field":"age","type":"quantitative","title":"Age","scale":{"domain":[-1.15,24.2],"nice":false,"zero":false},"axis":{"values":[0,5,10,15,20]}},"y":{"field":"hinge","type":"quantitative","title":"Hinge","scale":{"domain":[-1.25,26.3],"nice":false,"zero":false},"axis":{"values":[0,5,10,15,20,25]}},"color":{"field":"epoch","type":"nominal","scale":{"domain":["Funnel Beaker","Ertebølle"],"range":["#2d5f8b","#31b979"]},"legend":{"orient":"none","legendX":231,"legendY":449,"title":"cultural_epoch","titleFontSize":37,"titleFontWeight":"normal","titleColor":"black","titleFont":"Liberation Sans","labelFont":"Liberation Sans","labelFontSize":31,"labelColor":"black","symbolSize":340,"symbolType":"circle","symbolOffset":6,"labelOffset":25,"rowPadding":10,"titlePadding":20,"padding":0,"labelLimit":400,"titleLimit":400}}}},
{"data":{"name":"fit"},"mark":{"type":"line","color":"#cccccc","strokeWidth":3,"interpolate":"monotone"},"encoding":{"x":{"field":"age","type":"quantitative"},"y":{"field":"fit","type":"quantitative"}}}
]},
{"title":"Residuals","width":460,"height":640,"layer":[
{"data":{"name":"rows"},"mark":{"type":"circle","size":340,"opacity":0.5,"stroke":null},"encoding":{"x":{"field":"age","type":"quantitative","title":"Age","scale":{"domain":[-0.05,24.1],"nice":false,"zero":false},"axis":{"values":[0,5,10,15,20]}},"y":{"field":"resid","type":"quantitative","title":"Residuals","scale":{"domain":[-11.1,13.1],"nice":false,"zero":false},"axis":{"values":[-10,-5,0,5,10]}},"color":{"field":"epoch","type":"nominal","scale":{"domain":["Funnel Beaker","Ertebølle"],"range":["#2d5f8b","#31b979"]},"legend":null}}},
{"mark":{"type":"rule","color":"#cccccc","strokeWidth":3},"encoding":{"y":{"datum":0}}}
]}
]}
